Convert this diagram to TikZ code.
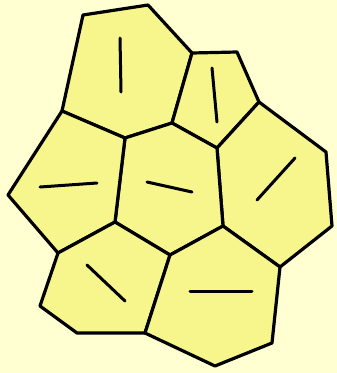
\documentclass[tikz,border=0pt]{standalone}
\usepackage{tikz}
\definecolor{paper}{RGB}{255,255,210}
\definecolor{cellfill}{RGB}{247,246,140}
\tikzset{
  cell/.style={fill=cellfill, draw=black, line width=3.2pt, line join=round},
  axis/.style={draw=black, line width=3pt, line cap=round}
}
\begin{document}
\begin{tikzpicture}[x=1pt, y=-1pt]
  % page and background
  \fill[paper] (0,0) rectangle (337,373);
  \useasboundingbox (0,0) rectangle (337,373);

  % junction points of the cell walls
  \coordinate (p1) at (83,15);
  \coordinate (p2) at (148,5);
  \coordinate (p3) at (192,53);
  \coordinate (p4) at (237,52);
  \coordinate (p5) at (259,102);
  \coordinate (p6) at (326,152);
  \coordinate (p7) at (332,226);
  \coordinate (p8) at (280,267);
  \coordinate (p9) at (272,343);
  \coordinate (p10) at (215,366);
  \coordinate (p11) at (145,333);
  \coordinate (p12) at (77,333);
  \coordinate (p13) at (40,306);
  \coordinate (p14) at (58,253);
  \coordinate (p15) at (8,195);
  \coordinate (p16) at (62,111);
  \coordinate (p17) at (125,138);
  \coordinate (p18) at (172,123);
  \coordinate (p19) at (217,148);
  \coordinate (p20) at (223,226);
  \coordinate (p21) at (170,255);
  \coordinate (p22) at (115,222);

  % cells
  \path[cell] (p1) -- (p2) -- (p3) -- (p18) -- (p17) -- (p16) -- cycle;
  \path[cell] (p3) -- (p4) -- (p5) -- (p19) -- (p18) -- cycle;
  \path[cell] (p5) -- (p6) -- (p7) -- (p8) -- (p20) -- (p19) -- cycle;
  \path[cell] (p17) -- (p18) -- (p19) -- (p20) -- (p21) -- (p22) -- cycle;
  \path[cell] (p16) -- (p17) -- (p22) -- (p14) -- (p15) -- cycle;
  \path[cell] (p22) -- (p21) -- (p11) -- (p12) -- (p13) -- (p14) -- cycle;
  \path[cell] (p21) -- (p20) -- (p8) -- (p9) -- (p10) -- (p11) -- cycle;

  % orientation axis inside each cell
  \coordinate (a1) at (120,38);  \coordinate (b1) at (121,92);
  \coordinate (a2) at (212,68);  \coordinate (b2) at (217,122);
  \coordinate (a3) at (295,158); \coordinate (b3) at (257,200);
  \coordinate (a4) at (147,182); \coordinate (b4) at (192,192);
  \coordinate (a5) at (40,187);  \coordinate (b5) at (97,183);
  \coordinate (a6) at (87,265);  \coordinate (b6) at (125,301);
  \coordinate (a7) at (190,291); \coordinate (b7) at (252,291);
  \foreach \i in {1,...,7} { \draw[axis] (a\i) -- (b\i); }
\end{tikzpicture}
\end{document}
